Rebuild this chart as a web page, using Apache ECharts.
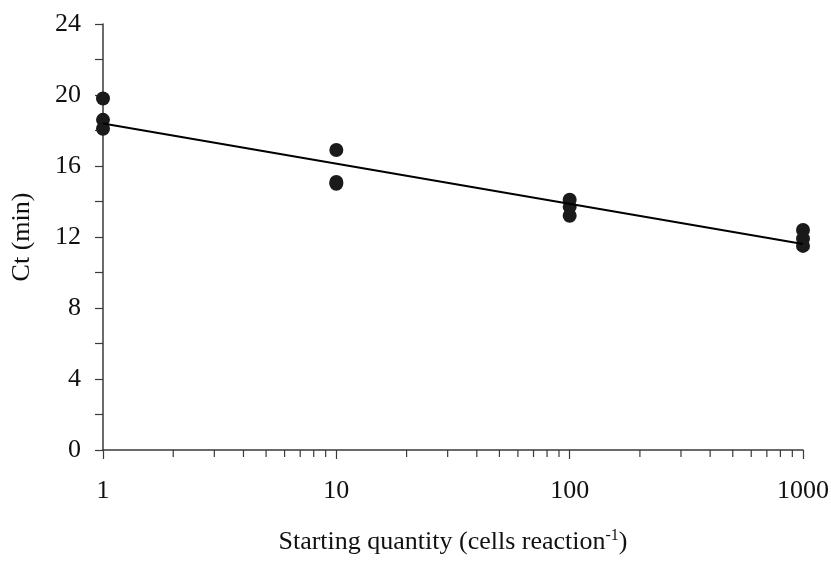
<!DOCTYPE html>
<html>
<head>
<meta charset="utf-8">
<script src="https://cdn.jsdelivr.net/npm/echarts@6/dist/echarts.min.js"></script>
<style>
  html, body { margin: 0; padding: 0; background: #fff; }
  #chart { width: 831px; height: 561px; }
</style>
</head>
<body>
<div id="chart"></div>
<script>
// starting quantity (cells / reaction) for each replicate
const quantity = [1, 1, 1, 10, 10, 10, 100, 100, 100, 1000, 1000, 1000];
// Ct values (min)
const ctValues = [19.8, 18.6, 18.1, 16.9, 15.1, 15.0, 14.1, 13.7, 13.2, 12.4, 11.9, 11.5];
// fitted regression line, end points
const fitQuantity = [1, 1000];
const fitCt = [18.4, 11.6];
// minor ticks on the log axis
const minorTickValues = [2, 3, 4, 5, 6, 7, 8, 9, 20, 30, 40, 50, 60, 70, 80, 90, 200, 300, 400, 500, 600, 700, 800, 900];

const axisColor = "#3a3a3a";
const textColor = "#111";
const serif = "Liberation Serif";

let chart = echarts.init(document.getElementById("chart"));
let option = {
    backgroundColor: "#fff",
    animation: false,
    grid: {
        left: 103,
        right: 28,
        top: 24,
        bottom: 111,
        outerBoundsMode: "none"
    },
    xAxis: {
        type: "log",
        logBase: 10,
        min: 1,
        max: 1000,
        name: "{a|Starting quantity (cells reaction}{sup|-1}{a|)}",
        nameLocation: "middle",
        nameGap: 78,
        nameTextStyle: {
            rich: {
                a: { fontFamily: serif, fontSize: 26, color: textColor },
                sup: { fontFamily: serif, fontSize: 16, color: textColor, verticalAlign: "top", padding: [0, 0, 12, 0] }
            }
        },
        axisLine: { lineStyle: { color: axisColor, width: 1.5 } },
        axisTick: { show: true, length: 9, lineStyle: { color: axisColor, width: 1.2 } },
        axisLabel: {
            fontFamily: serif, fontSize: 26, color: textColor, margin: 28,
            formatter: v => String(Math.round(v))
        },
        splitLine: { show: false },
        minorTick: { show: false }
    },
    yAxis: {
        type: "value",
        min: 0,
        max: 24,
        interval: 4,
        name: "Ct (min)",
        nameLocation: "middle",
        nameGap: 68,
        nameTextStyle: { fontFamily: serif, fontSize: 26, color: textColor },
        axisLine: { show: true, lineStyle: { color: axisColor, width: 1.5 } },
        axisTick: { show: true, length: 8, lineStyle: { color: axisColor, width: 1.2 } },
        minorTick: { show: true, splitNumber: 2, length: 8, lineStyle: { color: axisColor, width: 1.2 } },
        axisLabel: { fontFamily: serif, fontSize: 26, color: textColor, margin: 22 },
        splitLine: { show: false }
    },
    series: [
        {
            name: "fit",
            type: "line",
            data: fitQuantity.map((q, i) => [q, fitCt[i]]),
            symbol: "none",
            lineStyle: { color: "#000", width: 2 },
            z: 3
        },
        {
            name: "Ct",
            type: "scatter",
            data: quantity.map((q, i) => [q, ctValues[i]]),
            symbol: "circle",
            symbolSize: 14,
            itemStyle: { color: "#1a1a1a", opacity: 1 },
            z: 2
        },
        {
            // short minor ticks below the log axis
            name: "minorTicks",
            type: "custom",
            silent: true,
            clip: false,
            data: minorTickValues.map(v => [v, 0]),
            renderItem: (params, api) => {
                let p = api.coord([api.value(0), 0]);
                return {
                    type: "line",
                    shape: { x1: p[0], y1: p[1], x2: p[0], y2: p[1] + 7 },
                    style: { stroke: axisColor, lineWidth: 1.2 }
                };
            },
            z: 1
        }
    ]
};
chart.setOption(option);
</script>
</body>
</html>
